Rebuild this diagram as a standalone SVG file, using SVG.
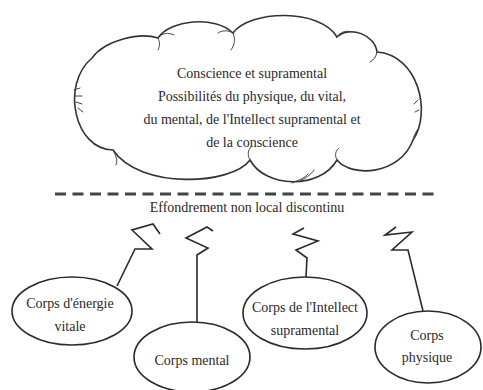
<svg xmlns="http://www.w3.org/2000/svg" width="483" height="390" viewBox="0 0 483 390">
<style>
  .txt { font-family: "Liberation Serif", "DejaVu Serif", serif; font-size: 14px; fill: #2a2a2a; text-anchor: middle; }
  .node { fill: #ffffff; stroke: #2a2a2a; stroke-width: 1.6; }
  .conn { fill: none; stroke: #2a2a2a; stroke-width: 1.6; stroke-linejoin: miter; }
  .cloud { fill: #ffffff; stroke: #333333; stroke-width: 1.6; }
  .hatch { fill: none; stroke: #444444; stroke-width: 1; stroke-linecap: round; }
</style>
<rect width="483" height="390" fill="#ffffff"/>

<g id="cloud">
  <path class="cloud" d="M92,58 C105,40 140,32 158,38 C170,20 215,15 233,33 C250,10 320,8 337,37 C350,25 375,35 377,52 C418,55 432,112 413,140 C400,175 352,178 337,160 C320,190 265,188 250,160 C232,185 140,190 113,150 C75,150 60,85 92,58 Z"/>
  <g class="hatch">
    <path d="M158,38 C162,33 168,32 174,35"/>
    <path d="M158,38 C160,42 160,46 158,50"/>
    <path d="M233,33 C236,40 234,46 231,50"/>
    <path d="M233,33 C228,30 222,30 218,33"/>
    <path d="M337,37 C340,32 346,30 352,32"/>
    <path d="M377,52 C376,57 374,60 370,62"/>
    <path d="M74,90 L80,88 M75,96 L82,96 M76,102 L82,104 M78,108 L83,112"/>
    <path d="M113,150 C116,156 118,160 116,165"/>
    <path d="M250,160 C247,155 248,150 251,147"/>
    <path d="M337,160 C334,155 336,150 339,148"/>
    <path d="M300,181 C305,178 310,176 314,170 M292,183 C298,180 304,179 308,174"/>
    <path d="M413,140 C414,135 416,131 419,128 M418,100 L414,104 M419,110 L415,112"/>
  </g>
  <text class="txt" x="252" y="78">Conscience et supramental</text>
  <text class="txt" x="252" y="101">Possibilités du physique, du vital,</text>
  <text class="txt" x="252" y="124">du mental, de l'Intellect supramental et</text>
  <text class="txt" x="252" y="147">de la conscience</text>
</g>

<g id="boundary">
  <line x1="55" y1="194" x2="440" y2="194" stroke="#444444" stroke-width="3" stroke-dasharray="11 6.5"/>
  <text class="txt" x="247" y="212">Effondrement non local discontinu</text>
</g>

<g id="connectors">
  <path class="conn" d="M117,286 L135,249 L152,249 L132,230 L153,224 L160,234"/>
  <path class="conn" d="M197,322 L197,255 L208,248 L186,238 L207,227 L213,231"/>
  <path class="conn" d="M306,277 L307,258 L296,250 L318,241 L293,234 L304,228"/>
  <path class="conn" d="M423,311 L408,250 L392,250 L412,232 L385,235 L396,227"/>
</g>

<g id="node-vitale">
  <ellipse class="node" cx="72" cy="311" rx="60" ry="34"/>
  <text class="txt" x="70" y="308">Corps d'énergie</text>
  <text class="txt" x="70" y="331">vitale</text>
</g>

<g id="node-mental">
  <ellipse class="node" cx="192" cy="357" rx="58" ry="35"/>
  <text class="txt" x="192" y="365">Corps mental</text>
</g>

<g id="node-intellect">
  <ellipse class="node" cx="305" cy="313" rx="62" ry="36"/>
  <text class="txt" x="305" y="312">Corps de l'Intellect</text>
  <text class="txt" x="305" y="335">supramental</text>
</g>

<g id="node-physique">
  <ellipse class="node" cx="428" cy="347" rx="53" ry="36"/>
  <text class="txt" x="427" y="340">Corps</text>
  <text class="txt" x="427" y="362">physique</text>
</g>
</svg>
